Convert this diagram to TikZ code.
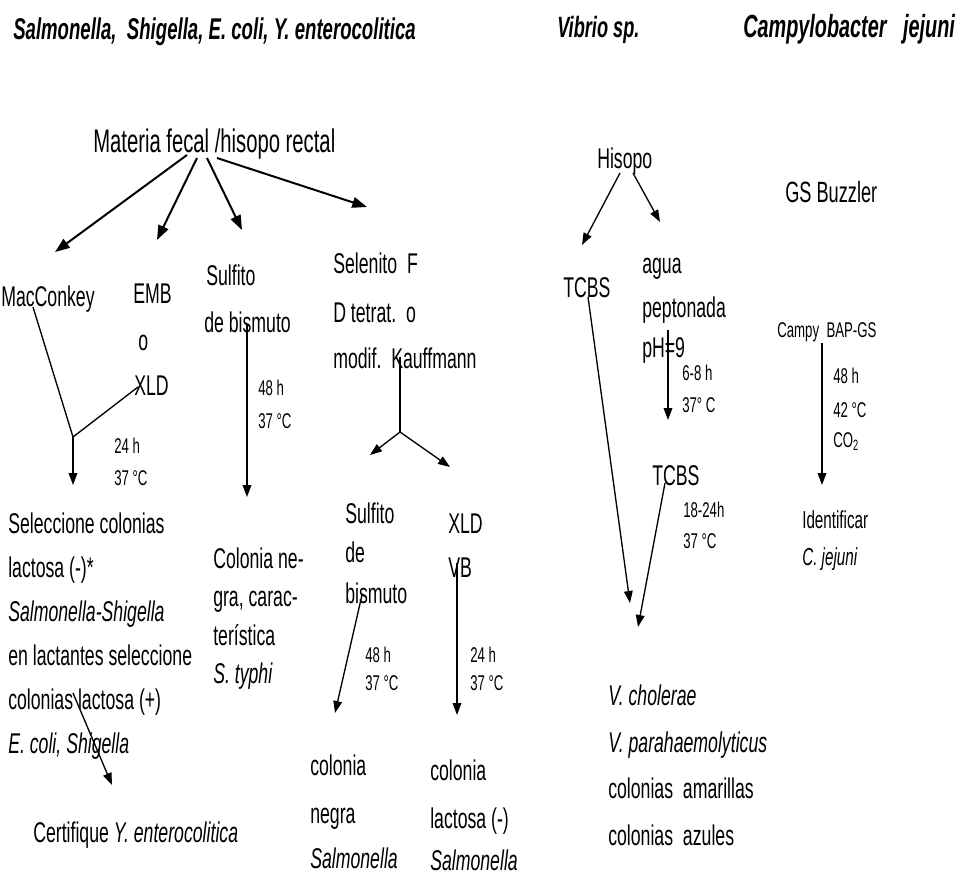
\documentclass[tikz,border=0pt]{standalone}
\usepackage{fontspec}
\setmainfont{Liberation Sans}[FakeStretch=0.62]
\usetikzlibrary{arrows.meta}
\begin{document}
\begin{tikzpicture}[x=0.75pt,y=-0.75pt,
  every node/.style={inner sep=0pt, anchor=base west},
  hdr/.style={font=\fontsize{22.5}{27}\selectfont\bfseries\itshape},
  big/.style={font=\fontsize{24.5}{29}\selectfont},
  txt/.style={font=\fontsize{21.4}{25}\selectfont},
  mid/.style={font=\fontsize{18.4}{22}\selectfont},
  sml/.style={font=\fontsize{16}{19}\selectfont},
  arr/.style={line width=1pt, -{Triangle[length=9pt,width=6.5pt]}},
  thk/.style={line width=1.5pt, -{Triangle[length=11pt,width=8pt]}},
  ln/.style={line width=1pt}]
\fill[white] (0,0) rectangle (960,874);
\useasboundingbox (0,0) rectangle (960,874);

% headers
\node[hdr] (hA) at (13,40) {Salmonella,\ \ Shigella, E. coli, Y. enterocolitica};
\node[hdr, font=\fontsize{22}{26}\selectfont\bfseries\itshape] (hB) at (557,38) {Vibrio sp.};
\node[hdr, font=\fontsize{24}{28}\selectfont\bfseries\itshape] (hC) at (743,38) {Campylobacter\ \ \ jejuni};

% ---------- enteric column ----------
\node[big] (mf) at (93,152) {Materia fecal /hisopo rectal};
\coordinate (m1s) at (187,155); \coordinate (m1e) at (55,252);
\coordinate (m2s) at (197,158); \coordinate (m2e) at (157,240);
\coordinate (m3s) at (207,158); \coordinate (m3e) at (242,230);
\coordinate (m4s) at (217,158); \coordinate (m4e) at (367,207);
\draw[thk] (m1s) -- (m1e);
\draw[thk] (m2s) -- (m2e);
\draw[thk] (m3s) -- (m3e);
\draw[thk] (m4s) -- (m4e);

\node[txt] (mac) at (1,306) {MacConkey};
\node[txt] (emb) at (133,303) {EMB};
\node[txt] (oo) at (138,350) {o};
\node[txt] (xld) at (134,395) {XLD};
\node[txt] (sb1) at (206,285) {Sulfito};
\node[txt] (sb2) at (204,332) {de bismuto};
\node[txt] (se1) at (333,273) {Selenito\ \ F};
\node[txt] (se2) at (333,322) {D tetrat.\ \ o};
\node[txt] (se3) at (333,368) {modif.\ \ Kauffmann};

% MacConkey / XLD merge
\coordinate (macS) at (33,307);
\coordinate (xldS) at (138,387);
\coordinate (j1) at (73,437);
\coordinate (j1e) at (73,485);
\draw[ln] (macS) -- (j1) -- (xldS);
\draw[arr] (j1) -- (j1e);
\node[sml] (t1a) at (114,453) {24 h};
\node[sml] (t1b) at (114,485) {37 °C};

% Sulfito de bismuto
\coordinate (sbS) at (247,325); \coordinate (sbE) at (247,497);
\draw[arr] (sbS) -- (sbE);
\node[sml] (t2a) at (258,395) {48 h};
\node[sml] (t2b) at (258,428) {37 °C};

% Kauffmann split
\coordinate (kS) at (400,357);
\coordinate (j2) at (400,432);
\coordinate (kL) at (370,455);
\coordinate (kR) at (450,467);
\draw[ln] (kS) -- (j2);
\draw[arr] (j2) -- (kL);
\draw[arr] (j2) -- (kR);

\node[txt] (ks1) at (345,523) {Sulfito};
\node[txt] (ks2) at (345,562) {de};
\node[txt] (ks3) at (345,603) {bismuto};
\node[txt] (kx1) at (448,533) {XLD};
\node[txt] (kx2) at (448,577) {VB};

\coordinate (ksS) at (362,595); \coordinate (ksE) at (335,713);
\draw[arr] (ksS) -- (ksE);
\node[sml] (t3a) at (365,662) {48 h};
\node[sml] (t3b) at (365,690) {37 °C};

\coordinate (kxS) at (457,563); \coordinate (kxE) at (457,715);
\draw[arr] (kxS) -- (kxE);
\node[sml] (t4a) at (470,662) {24 h};
\node[sml] (t4b) at (470,690) {37 °C};

\node[txt] (r1a) at (310,775) {colonia};
\node[txt] (r1b) at (310,823) {negra};
\node[txt] (r1c) at (310,868) {\textit{Salmonella}};
\node[txt] (r2a) at (430,780) {colonia};
\node[txt] (r2b) at (430,828) {lactosa (-)};
\node[txt] (r2c) at (430,870) {\textit{Salmonella}};

% left results
\node[txt] (s1) at (8,533) {Seleccione colonias};
\node[txt] (s2) at (8,577) {lactosa (-)*};
\node[txt] (s3) at (8,621) {\textit{Salmonella-Shigella}};
\node[txt] (s4) at (8,665) {en lactantes seleccione};
\node[txt] (s5) at (8,709) {colonias lactosa (+)};
\node[txt] (s6) at (8,753) {\textit{E. coli, Shigella}};
\coordinate (sA) at (73,693); \coordinate (sB) at (112,785);
\draw[arr] (sA) -- (sB);
\node[txt] (cert) at (33,842) {Certifique \textit{Y. enterocolitica}};

\node[txt] (c1) at (213,568) {Colonia ne-};
\node[txt] (c2) at (213,606) {gra, carac-};
\node[txt] (c3) at (213,645) {terística};
\node[txt] (c4) at (213,683) {\textit{S. typhi}};

% ---------- Vibrio column ----------
\node[txt] (his) at (597,168) {Hisopo};
\coordinate (hLs) at (620,173); \coordinate (hLe) at (582,245);
\coordinate (hRs) at (633,173); \coordinate (hRe) at (660,222);
\draw[arr] (hLs) -- (hLe);
\draw[arr] (hRs) -- (hRe);
\node[txt] (tc1) at (563,297) {TCBS};
\node[txt] (ag1) at (642,273) {agua};
\node[txt] (ag2) at (642,317) {peptonada};
\node[txt] (ag3) at (642,357) {pH=9};
\coordinate (agS) at (668,330); \coordinate (agE) at (668,420);
\draw[arr] (agS) -- (agE);
\node[sml] (t5a) at (682,380) {6-8 h};
\node[sml] (t5b) at (682,412) {37° C};
\node[txt] (tc2) at (652,485) {TCBS};
\node[sml] (t6a) at (683,517) {18-24h};
\node[sml] (t6b) at (683,548) {37 °C};
\coordinate (tc1S) at (588,297); \coordinate (tc1E) at (630,603);
\coordinate (tc2S) at (665,483); \coordinate (tc2E) at (638,627);
\draw[arr] (tc1S) -- (tc1E);
\draw[arr] (tc2S) -- (tc2E);

\node[txt] (v1) at (608,705) {\textit{V. cholerae}};
\node[txt] (v2) at (608,752) {\textit{V. parahaemolyticus}};
\node[txt] (v3) at (608,798) {colonias\ \ amarillas};
\node[txt] (v4) at (608,845) {colonias\ \ azules};

% ---------- Campylobacter column ----------
\node[txt, font=\fontsize{22}{26}\selectfont] (gs) at (785,202) {GS Buzzler};
\node[sml] (cb) at (777,337) {Campy\ \ BAP-GS};
\coordinate (cbS) at (822,343); \coordinate (cbE) at (822,485);
\draw[arr] (cbS) -- (cbE);
\node[sml] (t7a) at (833,383) {48 h};
\node[sml] (t7b) at (833,417) {42 °C};
\node[sml] (t7c) at (833,447) {CO\textsubscript{2}};
\node[mid] (id1) at (802,528) {Identificar};
\node[mid] (id2) at (802,565) {\textit{C. jejuni}};
\end{tikzpicture}
\end{document}
